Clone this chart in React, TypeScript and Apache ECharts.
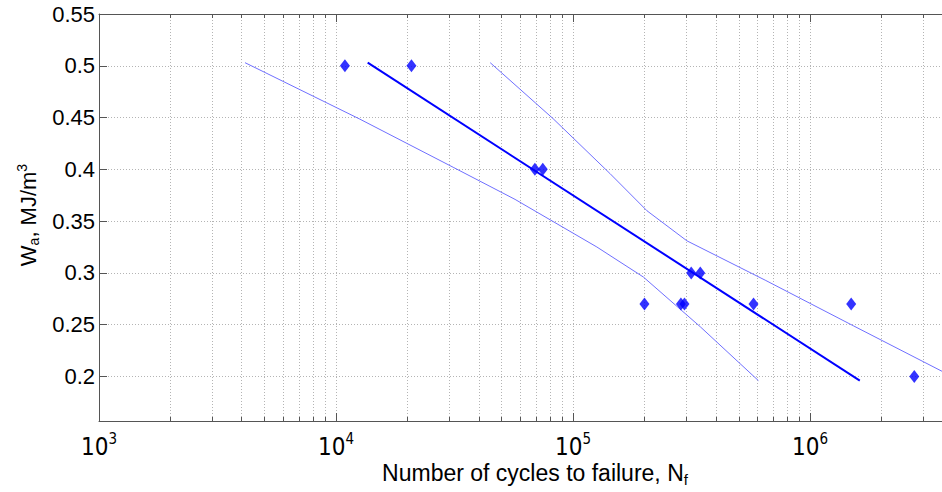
import React, { useEffect, useRef } from "react";
import * as echarts from "echarts";

// ---- data ----
const xTickMajors = [1e3, 1e4, 1e5, 1e6];
const yTickValues = [0.2, 0.25, 0.3, 0.35, 0.4, 0.45, 0.5, 0.55];

const testN = [1.09e4, 2.08e4, 6.9e4, 7.45e4, 2.0e5, 2.85e5, 2.95e5, 3.15e5, 3.44e5, 5.77e5, 1.49e6, 2.75e6];
const testW = [0.5, 0.5, 0.4, 0.4, 0.27, 0.27, 0.27, 0.3, 0.3, 0.27, 0.27, 0.2];

const fitN = [1.36e4, 1.62e6];
const fitW = [0.503, 0.196];

const lowerN = [4130, 12600, 31200, 56900, 126000, 198000, 344000, 605000];
const lowerW = [0.503, 0.4485, 0.402, 0.371, 0.325, 0.296, 0.248, 0.196];

const upperN = [44700, 82300, 143000, 205000, 302000, 646000, 1.52e6, 3.6e6];
const upperW = [0.503, 0.449, 0.396, 0.36, 0.331, 0.293, 0.249, 0.205];

const X_MIN = 1e3;
const X_MAX = 3.6e6;
const Y_MIN = 0.157;
const Y_MAX = 0.55;

const allXTicks: number[] = [];
for (let p = 3; p <= 6; p++) {
  for (let k = 1; k <= 9; k++) {
    const v = k * Math.pow(10, p);
    if (v >= X_MIN && v <= X_MAX) allXTicks.push(v);
  }
}

const zip = (a: number[], b: number[]) => a.map((v, i) => [v, b[i]]);

const AXIS_COLOR = "#555555";
const GRID_COLOR = "#b4b4b4";
const FONT = "'Liberation Sans', Arial, Helvetica, sans-serif";
const NARROW = "'Liberation Sans Narrow', 'Arial Narrow', 'DejaVu Sans Condensed', 'Liberation Sans', sans-serif";

export default function App() {
  const ref = useRef<HTMLDivElement>(null);
  useEffect(() => {
    if (!ref.current) return;
    const chart = echarts.init(ref.current, undefined, { renderer: "svg" });
    const xBase = { type: "log" as const, logBase: 10, min: X_MIN, max: X_MAX, gridIndex: 0 };
    const option: any = {
      animation: false,
      backgroundColor: "#ffffff",
      grid: { left: 99, top: 14, right: 0, bottom: 71 },
      xAxis: [
        {
          ...xBase,
          position: "bottom",
          axisLine: { show: true, lineStyle: { color: AXIS_COLOR, width: 1 } },
          axisTick: { show: true, inside: true, length: 4, customValues: allXTicks, lineStyle: { color: AXIS_COLOR } },
          axisLabel: {
            show: true,
            customValues: xTickMajors,
            margin: 10,
            formatter: (v: number) => `{a|10}{b|${Math.round(Math.log10(v))}}`,
            rich: {
              a: { fontSize: 24, fontFamily: NARROW, color: "#000", lineHeight: 28, verticalAlign: "bottom" },
              b: { fontSize: 15, fontFamily: NARROW, color: "#000", lineHeight: 15, verticalAlign: "top" },
            },
          },
          splitLine: { show: true, lineStyle: { color: GRID_COLOR, type: [1, 2], width: 1 } },
          minorTick: { show: false },
        },
        {
          ...xBase,
          position: "bottom",
          axisLine: { show: false },
          axisTick: { show: true, inside: true, length: 8, customValues: xTickMajors, lineStyle: { color: AXIS_COLOR } },
          axisLabel: { show: false },
          splitLine: { show: false },
        },
        {
          ...xBase,
          position: "top",
          axisLine: { show: true, lineStyle: { color: AXIS_COLOR, width: 1 } },
          axisTick: { show: true, inside: true, length: 4, customValues: allXTicks, lineStyle: { color: AXIS_COLOR } },
          axisLabel: { show: false },
          splitLine: { show: false },
        },
        {
          ...xBase,
          position: "top",
          axisLine: { show: false },
          axisTick: { show: true, inside: true, length: 8, customValues: xTickMajors, lineStyle: { color: AXIS_COLOR } },
          axisLabel: { show: false },
          splitLine: { show: false },
        },
      ],
      yAxis: [
        {
          type: "value",
          min: Y_MIN,
          max: Y_MAX,
          position: "left",
          axisLine: { show: true, lineStyle: { color: AXIS_COLOR, width: 1 } },
          axisTick: { show: true, inside: true, length: 8, customValues: yTickValues, lineStyle: { color: AXIS_COLOR } },
          axisLabel: {
            customValues: yTickValues,
            fontSize: 22,
            fontFamily: FONT,
            color: "#000",
            margin: 4,
          },
          splitLine: { show: true, lineStyle: { color: GRID_COLOR, type: [1, 2], width: 1 } },
        },
      ],
      series: [
        {
          type: "line",
          name: "lower",
          data: zip(lowerN, lowerW),
          showSymbol: false,
          symbol: "none",
          lineStyle: { color: "#6f6fff", width: 1 },
          z: 2,
        },
        {
          type: "line",
          name: "upper",
          data: zip(upperN, upperW),
          showSymbol: false,
          symbol: "none",
          lineStyle: { color: "#6f6fff", width: 1 },
          z: 2,
        },
        {
          type: "line",
          name: "fit",
          data: zip(fitN, fitW),
          showSymbol: false,
          symbol: "none",
          lineStyle: { color: "#0000ff", width: 2 },
          z: 3,
        },
        {
          type: "scatter",
          name: "tests",
          data: zip(testN, testW),
          symbol: "diamond",
          symbolSize: [10, 13],
          itemStyle: { color: "#0000ff" },
          z: 4,
        },
      ],
      graphic: [
        {
          type: "text",
          x: 535,
          y: 473,
          style: {
            text: "{t|Number of cycles to failure, N}{s|f}",
            align: "center",
            verticalAlign: "middle",
            rich: {
              t: { fontSize: 23, fontFamily: FONT, fill: "#000", lineHeight: 28, verticalAlign: "middle" },
              s: { fontSize: 15, fontFamily: FONT, fill: "#000", lineHeight: 15, verticalAlign: "bottom" },
            },
          },
        },
        {
          type: "text",
          x: 28,
          y: 215,
          rotation: Math.PI / 2,
          style: {
            text: "{t|W}{s|a}{t|, MJ/m}{p|3}",
            align: "center",
            verticalAlign: "middle",
            rich: {
              t: { fontSize: 22, fontFamily: FONT, fill: "#000", lineHeight: 26, verticalAlign: "middle" },
              s: { fontSize: 14, fontFamily: FONT, fill: "#000", lineHeight: 14, verticalAlign: "bottom" },
              p: { fontSize: 14, fontFamily: FONT, fill: "#000", lineHeight: 14, verticalAlign: "top" },
            },
          },
        },
      ],
    };
    chart.setOption(option);
    return () => chart.dispose();
  }, []);
  return (
    <div
      ref={ref}
      style={{ position: "fixed", left: 0, top: 0, width: 942, height: 492, background: "#fff" }}
    />
  );
}
